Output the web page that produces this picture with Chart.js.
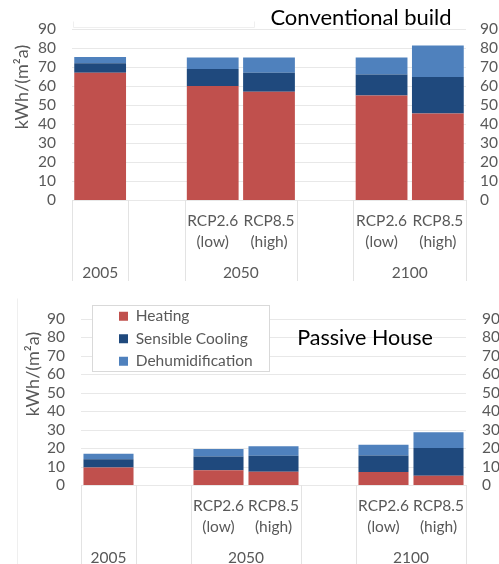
<!DOCTYPE html>
<html>
<head>
<meta charset="utf-8">
<script src="https://cdn.jsdelivr.net/npm/chart.js@4.4.1/dist/chart.umd.min.js"></script>
<style>
  html, body { margin: 0; padding: 0; background: #fff; }
  #wrap { position: relative; width: 499px; height: 564px; overflow: hidden; }
  .panel { position: absolute; left: 0; width: 499px; }
</style>
</head>
<body>
<div id="wrap">
  <div class="panel" style="top:0;height:290px"><canvas id="conv"></canvas></div>
  <div class="panel" style="top:290px;height:274px"><canvas id="pass"></canvas></div>
</div>
<script>
// categories: 7 slots on the axis, two of them left empty as spacers
const slotLabels = ['', '', ['RCP2.6', '(low)'], ['RCP8.5', '(high)'], '', ['RCP2.6', '(low)'], ['RCP8.5', '(high)']];
const years = ['2005', '2050', '2100'];
const yearSlots = [[0, 0], [2, 3], [5, 6]];   // first/last slot of each year group
const seriesNames = ['Heating', 'Sensible Cooling', 'Dehumidification'];
const yMax = 90;
const yStep = 10;

// Conventional build, kWh/(m²a)
const convHeating = [67, null, 60, 57, null, 55, 45.5];
const convCooling = [5, null, 9, 10, null, 11, 19.3];
const convDehum   = [3.2, null, 6, 8, null, 9, 16.5];

// Passive House, kWh/(m²a)
const passHeating = [9.5, null, 8, 7.2, null, 7, 5];
const passCooling = [4.5, null, 7.5, 8.7, null, 9, 15];
const passDehum   = [3, null, 4, 5.1, null, 5.8, 8.6];

const colors = ['#c0504d', '#1f497d', '#4f81bd'];
const grey = '#595959';
const font = 'Lato';

// draws grid, legend frame, group separators, year labels, titles
const decor = {
  id: 'decor',
  afterLayout(chart, args, o) {
    if (!o.legendAt || !chart.legend) return;
    const L = chart.legend, w = L.width, h = L.height;
    L.left = o.legendAt[0]; L.top = o.legendAt[1];
    L.right = L.left + w; L.bottom = L.top + h;
  },
  beforeDraw(chart, args, o) {
    const { ctx, chartArea: a } = chart;
    const y = chart.scales.y;
    ctx.save();
    ctx.lineWidth = 1;
    // faint frame remnants
    ctx.strokeStyle = '#efefef';
    (o.frame || []).forEach(pts => {
      ctx.beginPath();
      pts.forEach((p, i) => i ? ctx.lineTo(p[0] + 0.5, p[1] + 0.5) : ctx.moveTo(p[0] + 0.5, p[1] + 0.5));
      ctx.stroke();
    });
    ctx.strokeStyle = '#e8e8e8';
    y.ticks.forEach(t => {
      const py = Math.round(y.getPixelForValue(t.value)) + 0.5;
      ctx.beginPath(); ctx.moveTo(a.left, py); ctx.lineTo(a.right, py); ctx.stroke();
    });
    if (o.legendBox) {
      const [x0, y0, x1, y1] = o.legendBox;
      ctx.fillStyle = '#fff';
      ctx.fillRect(x0, y0, x1 - x0, y1 - y0);
      ctx.strokeStyle = '#d9d9d9';
      ctx.strokeRect(x0 + 0.5, y0 + 0.5, x1 - x0, y1 - y0);
    }
    ctx.restore();
  },
  afterDraw(chart, args, o) {
    const { ctx, chartArea: a } = chart;
    const x = chart.scales.x;
    const half = (a.right - a.left) / slotLabels.length / 2;
    ctx.save();
    // separators between year groups
    const bounds = new Set();
    yearSlots.forEach(([s, e]) => {
      bounds.add(Math.round(x.getPixelForValue(s) - half));
      bounds.add(Math.round(x.getPixelForValue(e) + half));
    });
    ctx.strokeStyle = '#e3e3e3';
    ctx.lineWidth = 1;
    bounds.forEach(bx => {
      ctx.beginPath(); ctx.moveTo(bx + 0.5, a.bottom); ctx.lineTo(bx + 0.5, o.sepBottom); ctx.stroke();
    });
    // year labels
    ctx.fillStyle = grey;
    ctx.font = `15.5px ${font}`;
    ctx.textAlign = 'center';
    ctx.textBaseline = 'middle';
    yearSlots.forEach(([s, e], i) => {
      const cx = (x.getPixelForValue(s) + x.getPixelForValue(e)) / 2;
      ctx.fillText(years[i], cx, a.bottom + o.yearOffset);
    });
    // y axis title
    ctx.save();
    ctx.translate(o.yTitle[0], o.yTitle[1]);
    ctx.rotate(-Math.PI / 2);
    ctx.font = `18px ${font}`;
    ctx.fillText('kWh/(m²a)', 0, 0);
    ctx.restore();
    // panel title
    ctx.fillStyle = '#000';
    ctx.font = `${o.titleSize}px ${font}`;
    ctx.fillText(o.title, o.titleAt[0], o.titleAt[1]);
    ctx.restore();
  }
};

function makeChart(id, heating, cooling, dehum, geo) {
  const tickFont = { family: font, size: 15.5 };
  const values = [heating, cooling, dehum];
  return new Chart(document.getElementById(id), {
    type: 'bar',
    data: {
      labels: slotLabels,
      datasets: seriesNames.map((name, i) => ({
        label: name,
        data: values[i],
        backgroundColor: colors[i],
        borderWidth: 0,
        barPercentage: geo.barPct,
        categoryPercentage: 1
      }))
    },
    options: {
      responsive: true,
      maintainAspectRatio: false,
      animation: false,
      devicePixelRatio: 1,
      layout: { padding: { top: geo.top, left: 0, right: 0, bottom: 0 } },
      plugins: {
        tooltip: { enabled: false },
        legend: {
          display: !!geo.legendAt,
          position: 'chartArea',
          align: 'start',
          labels: {
            boxWidth: 9, boxHeight: 9, padding: 7, color: grey,
            font: { family: font, size: 15.5 }
          }
        },
        decor: {
          title: geo.title, titleAt: geo.titleAt, titleSize: geo.titleSize, yTitle: geo.yTitle,
          sepBottom: geo.sepBottom, yearOffset: 73,
          legendAt: geo.legendAt, legendBox: geo.legendBox, frame: geo.frame
        }
      },
      scales: {
        x: {
          stacked: true,
          grid: { display: false, drawTicks: false },
          border: { display: false },
          ticks: { color: grey, font: { ...tickFont, lineHeight: 1.35 }, padding: 11, maxRotation: 0, autoSkip: false },
          afterFit: s => { s.height = geo.axisH; }
        },
        y: {
          stacked: true, min: 0, max: yMax,
          grid: { display: false, drawTicks: false },
          border: { display: false },
          ticks: { stepSize: yStep, autoSkip: false, color: grey, font: tickFont, padding: 16 },
          afterFit: s => { s.width = geo.leftW; }
        },
        y2: {
          position: 'right', min: 0, max: yMax,
          grid: { display: false, drawTicks: false },
          border: { display: false },
          ticks: { stepSize: yStep, autoSkip: false, color: grey, font: tickFont, padding: geo.rightPad },
          afterFit: s => { s.width = 499 - geo.right; }
        }
      }
    },
    plugins: [decor]
  });
}

makeChart('conv', convHeating, convCooling, convDehum, {
  top: 29, axisH: 90, leftW: 72, right: 466, rightPad: 14, barPct: 0.92,
  title: 'Conventional build', titleAt: [361, 18], titleSize: 22, yTitle: [22, 87], sepBottom: 281,
  frame: [[[73, 21], [73, 27], [254, 27], [254, 21]]]
});

makeChart('pass', passHeating, passCooling, passDehum, {
  top: 29, axisH: 79, leftW: 81, right: 466, rightPad: 16, barPct: 0.91,
  title: 'Passive House', titleAt: [365, 48], titleSize: 21.5, yTitle: [33, 84], sepBottom: 274,
  legendAt: [112, 11.5], legendBox: [92, 15, 269, 81],
  frame: [[[17, 8], [17, 274]]]
});
</script>
</body>
</html>
